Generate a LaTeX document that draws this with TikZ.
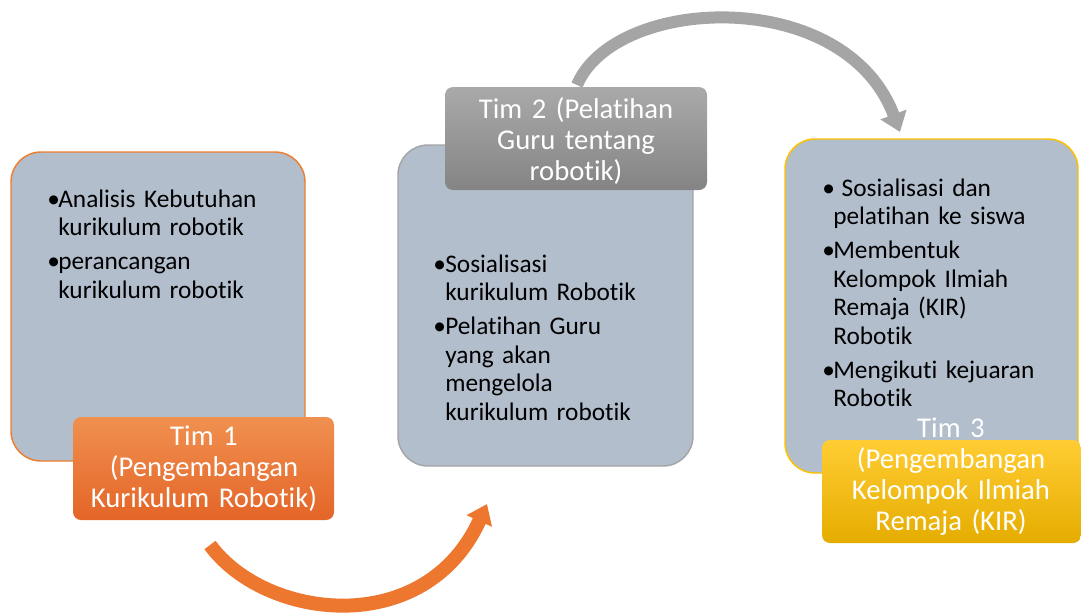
\documentclass[tikz,border=0pt]{standalone}
\usepackage{fontspec}
\setmainfont{Carlito}[Ligatures=NoCommon]
\usetikzlibrary{arrows.meta}
\newdimen\px \px=0.75pt
\definecolor{isi}{HTML}{B3BECD}
\definecolor{oranye}{HTML}{ED7D31}
\definecolor{abu}{HTML}{A5A5A5}
\definecolor{emas}{HTML}{FFC000}
\newcommand{\butir}[2][8.25pt]{\setlength{\parskip}{4.1pt}\hangindent=#1\hangafter=1\noindent\makebox[#1][l]{\textbullet}#2\par}

\begin{document}
\begin{tikzpicture}[x=0.75pt,y=-0.75pt,
   kotak/.style={draw,line width=1.1pt,fill=isi,rounded corners=22.5pt,inner sep=0pt},
   label/.style={rounded corners=6pt,inner sep=0pt,minimum width=#1,minimum height=103\px},
   isitim/.style={anchor=base west,inner sep=0pt,text width=250pt,align=left,
      font=\fontsize{19}{21.4}\selectfont},
   judul/.style={anchor=base,inner sep=0pt,text width=195pt,align=center,text=white,
      font=\fontsize{21.5}{23.3}\selectfont}]
   \useasboundingbox (0,0) rectangle (1081,612);
   % panah
   \coordinate (p1) at (210,545);
   \coordinate (p2) at (487,504);
   \coordinate (q1) at (577,85);
   \coordinate (q2) at (900,132);
   \draw[line width=10.5pt,color=oranye!95!red,-{Triangle[width=20pt,length=14pt]}]
      (p1) .. controls (265,620) and (425,640) .. (p2);
   \draw[line width=9pt,color=abu,-{Triangle[width=20pt,length=14pt]}]
      (q1) .. controls (615,-5) and (845,-15) .. (q2);
   % tim 1
   \node[kotak,draw=oranye,minimum width=294\px,minimum height=309\px] (k1) at (158,306.5) {};
   \node[isitim] (t1) at (47,207) {\butir{Analisis Kebutuhan\newline kurikulum robotik}
      \butir{perancangan\newline kurikulum robotik}};
   \node[label=261\px,top color=oranye!85!white,bottom color=oranye!85!red!95!black] (l1) at (203.5,468.5) {};
   \node[judul] (j1) at (204,445) {Tim 1\\(Pengembangan\\Kurikulum Robotik)};
   % tim 2
   \node[kotak,draw=abu,minimum width=295\px,minimum height=321\px] (k2) at (545.5,305.5) {};
   \node[isitim] (t2) at (433,272) {\butir[9pt]{Sosialisasi\newline kurikulum Robotik}
      \butir[9pt]{Pelatihan Guru\newline yang akan\newline mengelola\newline kurikulum robotik}};
   \node[label=262\px,top color=abu!95!white,bottom color=abu!80!black] (l2) at (576,138.5) {};
   \node[judul] (j2) at (576,118) {Tim 2 (Pelatihan\\Guru tentang\\robotik)};
   % tim 3
   \node[kotak,draw=emas,minimum width=293\px,minimum height=334\px] (k3) at (931.5,306) {};
   \node[isitim] (t3) at (822,196) {\butir{\ Sosialisasi dan\newline pelatihan ke siswa}
      \butir{Membentuk\newline Kelompok Ilmiah\newline Remaja (KIR)\newline Robotik}
      \butir{Mengikuti kejuaran\newline Robotik}};
   \node[label=259\px,top color=emas!80!white,bottom color=emas!90!black] (l3) at (951.5,491.5) {};
   \node[judul] (j3) at (951,437) {Tim 3\\(Pengembangan\\Kelompok Ilmiah\\Remaja (KIR)};
\end{tikzpicture}
\end{document}
